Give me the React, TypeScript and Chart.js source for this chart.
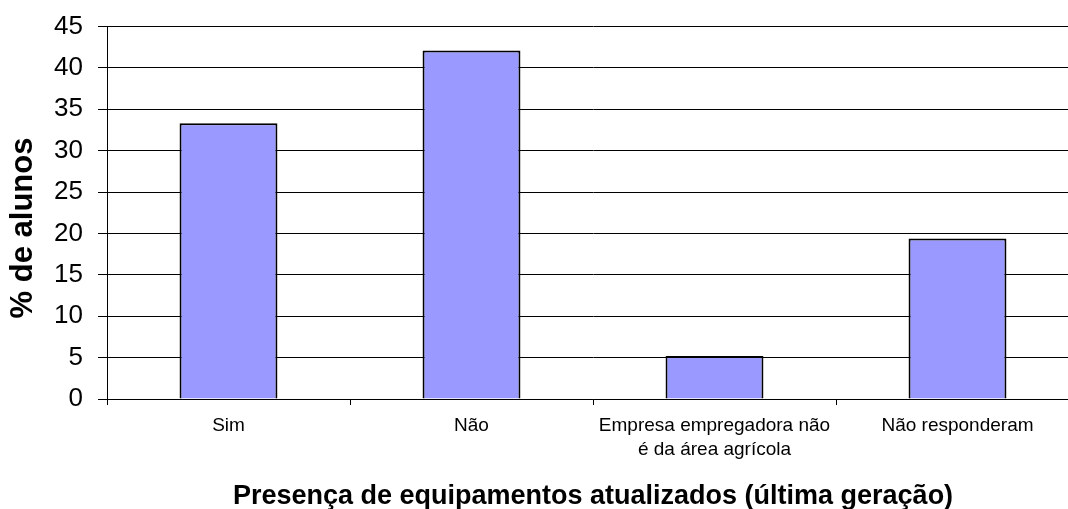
import React, { useEffect, useRef } from "react";
import { Chart, registerables } from "chart.js";

Chart.register(...registerables);

const categories: (string | string[])[] = [
  "Sim",
  "Não",
  ["Empresa empregadora não", "é da área agrícola"],
  "Não responderam",
];
const percentValues: number[] = [33.3, 42.1, 5.2, 19.4];
const yTickMin = 0;
const yTickMax = 45;
const yTickStep = 5;
const yTitle = "% de alunos";
const xTitle = "Presença de equipamentos atualizados (última geração)";

const FONT = "'Liberation Sans', Arial, Helvetica, sans-serif";

const yTitlePlugin = {
  id: "yTitlePlugin",
  afterDraw(chart: any) {
    const ctx = chart.ctx as CanvasRenderingContext2D;
    ctx.save();
    ctx.translate(32, 228);
    ctx.rotate(-Math.PI / 2);
    ctx.font = `bold 31px ${FONT}`;
    ctx.fillStyle = "#000";
    ctx.textAlign = "center";
    ctx.textBaseline = "alphabetic";
    ctx.fillText(yTitle, 0, 0);
    ctx.restore();
  },
};

export default function App() {
  const ref = useRef<HTMLCanvasElement | null>(null);

  useEffect(() => {
    if (!ref.current) return;
    const chart = new Chart(ref.current, {
      type: "bar",
      data: {
        labels: categories,
        datasets: [
          {
            data: percentValues,
            backgroundColor: "#9999FF",
            borderColor: "#000000",
            borderWidth: 2,
            categoryPercentage: 1,
            barPercentage: 0.403,
          },
        ],
      },
      plugins: [yTitlePlugin],
      options: {
        responsive: false,
        animation: false,
        devicePixelRatio: 1,
        layout: { padding: { left: 0, right: 11, top: 26.5, bottom: 0 } },
        plugins: {
          legend: { display: false },
          tooltip: { enabled: false },
        },
        scales: {
          x: {
            grid: {
              offset: true,
              drawOnChartArea: false,
              drawTicks: true,
              tickLength: 6,
              color: "#000",
              lineWidth: 1,
            },
            border: { color: "#000", width: 1 },
            ticks: {
              color: "#000",
              font: { family: FONT, size: 19, lineHeight: 1.3 },
              padding: 8,
              maxRotation: 0,
              autoSkip: false,
            },
            title: {
              display: true,
              text: xTitle,
              color: "#000",
              font: { family: FONT, size: 27, weight: "bold", lineHeight: 0.9 },
              padding: { top: 0, bottom: 0 },
            },
            afterFit: (scale: any) => {
              scale.height = 110;
              scale.paddingLeft = 0;
              scale.paddingRight = 0;
            },
          },
          y: {
            min: yTickMin,
            max: yTickMax,
            ticks: {
              stepSize: yTickStep,
              color: "#000",
              font: { family: FONT, size: 26 },
              padding: 15,
            },
            grid: {
              color: "#000",
              lineWidth: 1,
              tickLength: 9,
            },
            border: { color: "#000", width: 1 },
            title: { display: false },
            afterFit: (scale: any) => {
              scale.width = 107;
              scale.paddingTop = 0;
              scale.paddingBottom = 0;
            },
          },
        },
      },
    });
    return () => chart.destroy();
  }, []);

  return (
    <div
      style={{
        position: "absolute",
        left: 0,
        top: 0,
        width: 1068,
        height: 509,
        overflow: "hidden",
        background: "#fff",
      }}
    >
      <canvas ref={ref} width={1090} height={509} style={{ display: "block" }} />
    </div>
  );
}
